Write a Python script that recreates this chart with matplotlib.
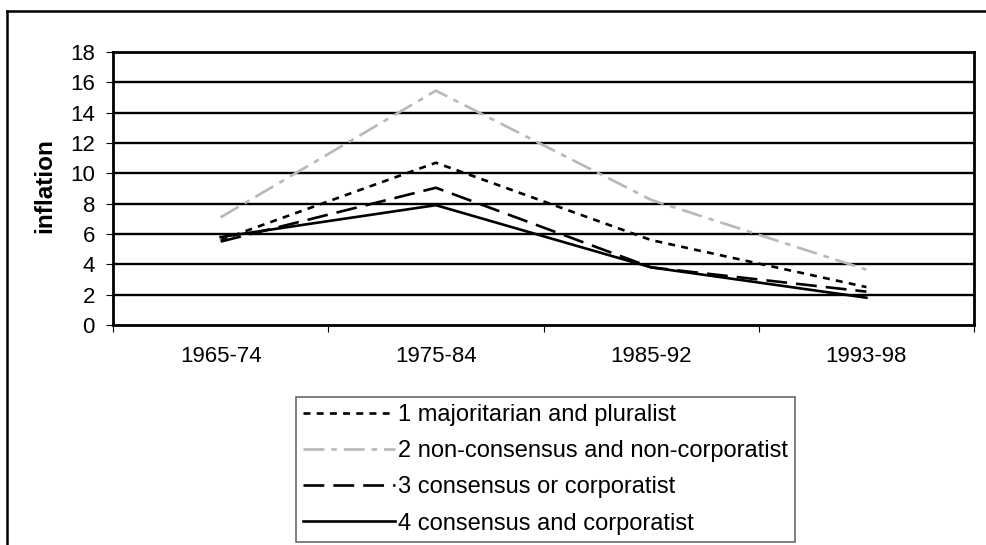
import matplotlib
matplotlib.use("Agg")
import matplotlib.pyplot as plt
from matplotlib.lines import Line2D

plt.rcParams['font.family'] = ['Liberation Sans', 'DejaVu Sans']
plt.rcParams['lines.scale_dashes'] = False

categories = ["1965-74", "1975-84", "1985-92", "1993-98"]
s1_label = "1 majoritarian and pluralist"
s2_label = "2 non-consensus and non-corporatist"
s3_label = "3 consensus or corporatist"
s4_label = "4 consensus and corporatist"
s1 = [5.6, 10.7, 5.6, 2.5]
s2 = [7.1, 15.45, 8.25, 3.65]
s3 = [5.5, 9.05, 3.8, 2.2]
s4 = [5.8, 7.9, 3.8, 1.8]
yticks = [0, 2, 4, 6, 8, 10, 12, 14, 16, 18]

W, H = 986, 545
fig = plt.figure(figsize=(W / 100, H / 100), dpi=100)
ax = fig.add_axes([113 / W, 1 - 325 / H, (974 - 113) / W, (325 - 52) / H])

x = list(range(len(categories)))
lw = 1.9
ax.plot(x, s1, color='black', lw=lw, dashes=(5, 4.5), label=s1_label, zorder=3)
ax.plot(x, s2, color='#b8b8b8', lw=lw, dashes=(15, 5, 4, 5), label=s2_label, zorder=3)
ax.plot(x, s3, color='black', lw=lw, dashes=(15, 6.5), label=s3_label, zorder=3)
ax.plot(x, s4, color='black', lw=lw, label=s4_label, zorder=3)

ax.set_xlim(-0.5, len(categories) - 0.5)
ax.set_ylim(0, 18)
ax.set_yticks(yticks)
ax.set_yticklabels([str(v) for v in yticks])
for v in yticks[1:-1]:
    ax.axhline(v, color='black', lw=1.7, zorder=1)

ax.set_xticks([i - 0.5 for i in range(len(categories) + 1)])
ax.set_xticklabels([])
ax.set_xticks(x, minor=True)
ax.set_xticklabels(categories, minor=True)
ax.tick_params(axis='x', which='major', direction='out', length=5, width=0.8)
ax.tick_params(axis='x', which='minor', length=0, pad=15, labelsize=16)
ax.tick_params(axis='y', direction='out', length=5, width=0.8, pad=8, labelsize=16)

for sp in ax.spines.values():
    sp.set_linewidth(2.0)
    sp.set_color('black')

fig.text(45 / W, 1 - 186 / H, "inflation", rotation=90, ha='center', va='center',
         fontsize=17.5, fontweight='bold')

leg = fig.legend(loc='upper left', bbox_to_anchor=(296 / W, 1 - 397 / H),
                 bbox_transform=fig.transFigure, borderaxespad=0, fontsize=17,
                 handlelength=3.9, handletextpad=0.1, labelspacing=0.6,
                 borderpad=0.3, fancybox=False, frameon=True)
leg.get_frame().set_edgecolor('#444444')
leg.get_frame().set_linewidth(1.2)

fig.add_artist(Line2D([7 / W, 7 / W], [0, 1 - 11 / H], color='black', lw=1.8,
                      transform=fig.transFigure))
fig.add_artist(Line2D([7 / W, 1], [1 - 11 / H, 1 - 11 / H], color='black', lw=1.8,
                      transform=fig.transFigure))

fig.savefig("out.png", dpi=100)
